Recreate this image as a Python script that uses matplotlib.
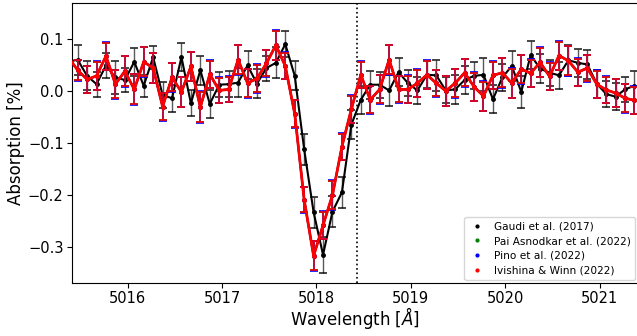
import numpy as np
import matplotlib
matplotlib.use("Agg")
import matplotlib.pyplot as plt

# wavelength grid (Angstrom)
wavelength = [5015.37, 5015.47, 5015.57, 5015.67, 5015.77, 5015.87, 5015.97,
              5016.07, 5016.17, 5016.27, 5016.37, 5016.47, 5016.57, 5016.67,
              5016.77, 5016.87, 5016.97, 5017.07, 5017.17, 5017.27, 5017.37,
              5017.47, 5017.57, 5017.67, 5017.77, 5017.87, 5017.97, 5018.07,
              5018.17, 5018.27, 5018.37, 5018.47, 5018.57, 5018.67, 5018.77,
              5018.87, 5018.97, 5019.07, 5019.17, 5019.27, 5019.37, 5019.47,
              5019.57, 5019.67, 5019.77, 5019.87, 5019.97, 5020.07, 5020.17,
              5020.27, 5020.37, 5020.47, 5020.57, 5020.67, 5020.77, 5020.87,
              5020.97, 5021.07, 5021.17, 5021.27, 5021.37, 5021.47]

gaudi = [0.056, 0.060, 0.029, 0.013, 0.049, 0.026, 0.021, 0.056, 0.010, 0.065,
         -0.008, -0.014, 0.065, -0.024, 0.040, -0.025, 0.012, 0.013, 0.016, 0.049,
         0.014, 0.044, 0.054, 0.090, 0.029, -0.112, -0.233, -0.315, -0.232, -0.195,
         -0.065, -0.017, 0.012, 0.012, 0.001, 0.036, 0.015, 0.001, 0.031, 0.030,
         0.001, 0.003, 0.021, 0.029, 0.031, -0.016, 0.026, 0.048, -0.002, 0.069,
         0.043, 0.035, 0.030, 0.059, 0.054, 0.051, 0.014, -0.006, -0.011, 0.003,
         0.010, 0.005]
gaudi_err = [0.028, 0.029, 0.028, 0.024, 0.024, 0.032, 0.023, 0.027, 0.021, 0.022,
             0.025, 0.026, 0.027, 0.025, 0.028, 0.027, 0.024, 0.025, 0.028, 0.027,
             0.028, 0.024, 0.030, 0.025, 0.028, 0.030, 0.030, 0.035, 0.030, 0.030,
             0.028, 0.027, 0.027, 0.025, 0.030, 0.027, 0.025, 0.026, 0.026, 0.030,
             0.025, 0.028, 0.027, 0.026, 0.032, 0.027, 0.026, 0.028, 0.030, 0.027,
             0.028, 0.025, 0.026, 0.030, 0.027, 0.028, 0.027, 0.025, 0.026, 0.024,
             0.028, 0.027]

ivishina = [0.065, 0.040, 0.022, 0.029, 0.067, 0.013, 0.038, 0.003, 0.056, 0.044,
            -0.030, 0.026, -0.002, 0.047, -0.031, 0.032, 0.001, 0.003, 0.060, 0.015,
            0.024, 0.053, 0.088, 0.048, -0.044, -0.209, -0.317, -0.258, -0.200, -0.107,
            -0.035, 0.031, -0.017, 0.003, 0.060, 0.003, 0.003, 0.015, 0.031, 0.015,
            0.000, 0.015, 0.035, 0.008, -0.010, 0.030, 0.035, 0.015, 0.042, 0.034,
            0.055, 0.028, 0.068, 0.058, 0.036, 0.044, 0.013, 0.002, -0.004, -0.014,
            -0.018, -0.020]
ivishina_err = [0.026, 0.019, 0.025, 0.027, 0.026, 0.027, 0.029, 0.029, 0.028, 0.028,
                0.026, 0.027, 0.028, 0.027, 0.029, 0.026, 0.024, 0.024, 0.028, 0.027,
                0.026, 0.025, 0.028, 0.025, 0.026, 0.024, 0.028, 0.026, 0.027, 0.025,
                0.026, 0.025, 0.026, 0.027, 0.028, 0.025, 0.026, 0.026, 0.027, 0.025,
                0.028, 0.027, 0.026, 0.027, 0.028, 0.026, 0.028, 0.028, 0.027, 0.026,
                0.028, 0.026, 0.027, 0.028, 0.026, 0.025, 0.026, 0.025, 0.026, 0.027,
                0.026, 0.026]

# Pai Asnodkar et al. and Pino et al. coincide with Ivishina & Winn in the figure
pai = list(ivishina)
pai_err = list(ivishina_err)
pino = list(ivishina)
pino_err = [0.027, 0.020, 0.026, 0.028, 0.027, 0.028, 0.030, 0.030, 0.029, 0.029,
            0.027, 0.028, 0.029, 0.028, 0.030, 0.027, 0.025, 0.025, 0.029, 0.028,
            0.027, 0.026, 0.029, 0.026, 0.027, 0.025, 0.029, 0.027, 0.028, 0.026,
            0.027, 0.026, 0.027, 0.028, 0.029, 0.026, 0.027, 0.027, 0.028, 0.026,
            0.029, 0.028, 0.027, 0.028, 0.029, 0.027, 0.029, 0.029, 0.028, 0.027,
            0.029, 0.027, 0.028, 0.029, 0.027, 0.026, 0.027, 0.026, 0.027, 0.028,
            0.027, 0.027]

labels = ["Gaudi et al. (2017)", "Pai Asnodkar et al. (2022)",
          "Pino et al. (2022)", "Ivishina & Winn (2022)"]
colors = ["black", "green", "blue", "red"]
midtransit = 5018.435

fig = plt.figure(figsize=(6.37, 3.36), dpi=100)
ax = fig.add_axes([0.113, 0.158, 0.889, 0.833])

def draw(vals, errs, color, lw, elw, ealpha, z):
    line, caps, bars = ax.errorbar(wavelength, vals, yerr=errs, fmt='.-', color=color,
                                   lw=lw, ms=5, capsize=3, elinewidth=elw,
                                   capthick=1.2, zorder=z)
    for b in bars:
        b.set_alpha(ealpha)
    for c in caps:
        c.set_alpha(min(1.0, ealpha + 0.2))

draw(gaudi, gaudi_err, colors[0], 1.5, 1.0, 0.65, 2)
draw(pai, pai_err, colors[1], 1.5, 1.2, 0.8, 3)
draw(pino, pino_err, colors[2], 1.5, 1.2, 0.8, 4)
draw(ivishina, ivishina_err, colors[3], 2.0, 1.3, 0.75, 5)

ax.axvline(midtransit, color='black', ls=':', lw=1.2, zorder=1)

for lab, col in zip(labels, colors):
    ax.plot([], [], '.', color=col, label=lab, ms=4)
ax.legend(loc='lower right', fontsize=7.6, handlelength=1.6, framealpha=0.8,
          borderaxespad=0.3, labelspacing=0.45)

ax.set_xlim(5015.41, 5021.41)
ax.set_ylim(-0.369, 0.169)
ax.set_xticks([5016, 5017, 5018, 5019, 5020, 5021])
ax.set_yticks([0.1, 0.0, -0.1, -0.2, -0.3])
ax.tick_params(labelsize=10.5, pad=2.5)
ax.set_xlabel(r'Wavelength [$\AA$]', fontsize=12, labelpad=-1)
ax.set_ylabel('Absorption [%]', fontsize=12, labelpad=2)

fig.savefig('out.png', dpi=100)
